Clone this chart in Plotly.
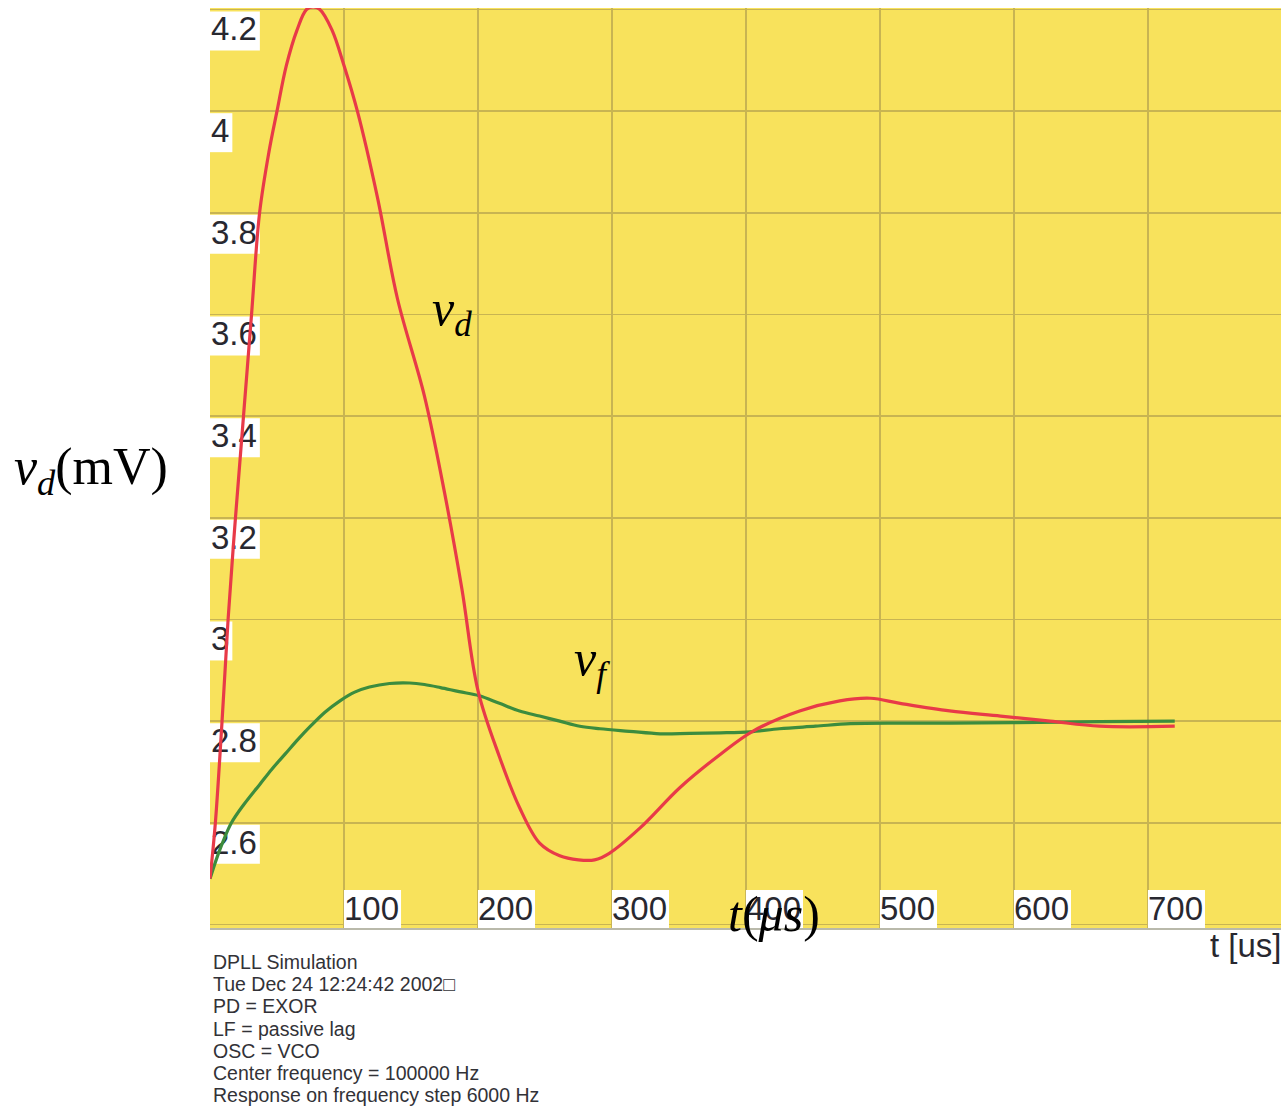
import plotly.graph_objects as go

# ---------------- data ----------------
red_t = [0, 4, 9, 13.5, 19, 25, 31, 37, 44, 50, 57, 65, 72, 77, 82, 91, 100, 110, 125,
         140, 160, 175, 188, 200, 216, 231, 246, 261, 275, 287, 298, 321, 351, 381, 405,
         440, 470, 493, 515, 552, 590, 627, 664, 720]
red_v = [2.49, 2.6, 2.8, 3.0, 3.2, 3.4, 3.6, 3.8, 3.92, 4.0, 4.09, 4.16, 4.2, 4.205, 4.2,
         4.16, 4.09, 4.0, 3.83, 3.63, 3.44, 3.25, 3.06, 2.86, 2.73, 2.63, 2.56, 2.535, 2.527,
         2.527, 2.54, 2.59, 2.67, 2.735, 2.78, 2.82, 2.84, 2.845, 2.835, 2.82, 2.81, 2.80,
         2.79, 2.79]

green_t = [0, 5, 10, 16, 25, 37, 46, 56, 66, 75, 86, 97, 108, 119, 134, 149, 160, 172, 186,
           201, 216, 231, 246, 261, 276, 291, 313, 336, 358, 381, 403, 425, 452, 478, 515,
           552, 600, 664, 720]
green_v = [2.49, 2.53, 2.565, 2.6, 2.635, 2.675, 2.705, 2.735, 2.765, 2.79, 2.818, 2.84,
           2.857, 2.867, 2.874, 2.875, 2.872, 2.866, 2.858, 2.85, 2.835, 2.82, 2.81, 2.80,
           2.79, 2.785, 2.78, 2.775, 2.776, 2.777, 2.779, 2.785, 2.79, 2.795, 2.796, 2.796,
           2.797, 2.799, 2.80]

y_ticks = [2.6, 2.8, 3.0, 3.2, 3.4, 3.6, 3.8, 4.0, 4.2]
y_tick_labels = ["2.6", "2.8", "3", "3.2", "3.4", "3.6", "3.8", "4", "4.2"]
x_ticks = [100, 200, 300, 400, 500, 600, 700]
x_tick_labels = ["100", "200", "300", "400", "500", "600", "700"]

info_lines = [
    "DPLL Simulation",
    "Tue Dec 24 12:24:42 2002\u25a1",
    "PD = EXOR",
    "LF = passive lag",
    "OSC = VCO",
    "Center frequency = 100000 Hz",
    "Response on frequency step 6000 Hz",
]

# ---------------- layout geometry ----------------
W, H = 1287, 1108
ML, MR, MT = 210, 6, 8
MB = H - 928
X_RANGE = [0, 799.3]
Y_RANGE = [2.393, 4.203]
plot_w = W - ML - MR
plot_h = H - MT - MB
px_x = (X_RANGE[1] - X_RANGE[0]) / plot_w   # data units per pixel
px_y = (Y_RANGE[1] - Y_RANGE[0]) / plot_h

YELLOW = "rgb(248,226,92)"
GRID = "rgb(200,180,82)"
TICK_FONT = dict(family="Liberation Sans, Arial, sans-serif", size=33, color="rgb(40,40,48)")
SERIF = "Liberation Serif, Times New Roman, serif"

fig = go.Figure()

shapes = []
def text_w(s, size):
    return sum(0.278 if c == "." else 0.556 for c in s) * size

for v, lab in zip(y_ticks, y_tick_labels):
    w = text_w(lab, TICK_FONT["size"]) + 4
    shapes.append(dict(type="rect", layer="between", xref="x", yref="y",
                       x0=X_RANGE[0], x1=X_RANGE[0] + w * px_x,
                       y0=v - 2 * px_y, y1=v - 41 * px_y,
                       fillcolor="white", line_width=0))
for v, lab in zip(x_ticks, x_tick_labels):
    w = text_w(lab, TICK_FONT["size"]) + 2
    shapes.append(dict(type="rect", layer="between", xref="x", yref="y",
                       x0=v, x1=v + w * px_x,
                       y0=Y_RANGE[0], y1=Y_RANGE[0] + 38 * px_y,
                       fillcolor="white", line_width=0))

# tick label texts (drawn below the curves)
fig.add_trace(go.Scatter(
    x=[X_RANGE[0] + 1 * px_x] * len(y_ticks), y=[v - 6 * px_y for v in y_ticks],
    text=y_tick_labels, mode="text", textposition="bottom right",
    textfont=TICK_FONT, hoverinfo="skip", showlegend=False, cliponaxis=False))
fig.add_trace(go.Scatter(
    x=x_ticks, y=[Y_RANGE[0] + 0 * px_y] * len(x_ticks),
    text=x_tick_labels, mode="text", textposition="top right",
    textfont=TICK_FONT, hoverinfo="skip", showlegend=False, cliponaxis=False))

# curves
fig.add_trace(go.Scatter(x=green_t, y=green_v, mode="lines", line_shape="spline",
                         line=dict(color="rgb(60,140,62)", width=3.2),
                         hoverinfo="skip", showlegend=False))
fig.add_trace(go.Scatter(x=red_t, y=red_v, mode="lines", line_shape="spline",
                         line=dict(color="rgb(232,58,72)", width=3.2),
                         hoverinfo="skip", showlegend=False))

annotations = []
def paper_y(py):          # py: pixel in the page
    return (H - MB - py) / plot_h
def paper_x(px):
    return (px - ML) / plot_w

annotations.append(dict(xref="paper", yref="paper", x=paper_x(12), y=paper_y(470),
                        xanchor="left", yanchor="middle", showarrow=False,
                        text="<i>v</i><sub><i>d</i></sub>(mV)",
                        font=dict(family=SERIF, size=52, color="black")))
annotations.append(dict(xref="paper", yref="paper", x=paper_x(430), y=paper_y(312),
                        xanchor="left", yanchor="middle", showarrow=False,
                        text="<i>v</i><sub><i>d</i></sub>",
                        font=dict(family=SERIF, size=50, color="black")))
annotations.append(dict(xref="paper", yref="paper", x=paper_x(572), y=paper_y(662),
                        xanchor="left", yanchor="middle", showarrow=False,
                        text="<i>v</i><sub><i>f</i></sub>",
                        font=dict(family=SERIF, size=50, color="black")))
annotations.append(dict(xref="paper", yref="paper", x=paper_x(726), y=paper_y(914),
                        xanchor="left", yanchor="middle", showarrow=False,
                        text="<i>t</i>(<i>\u03bcs</i>)",
                        font=dict(family=SERIF, size=50, color="black")))
annotations.append(dict(xref="paper", yref="paper", x=paper_x(1284), y=paper_y(945),
                        xanchor="right", yanchor="middle", showarrow=False,
                        text="t [us]",
                        font=dict(family="Liberation Sans, Arial, sans-serif", size=33,
                                  color="rgb(40,40,48)")))
for i, line in enumerate(info_lines):
    annotations.append(dict(xref="paper", yref="paper", x=paper_x(211),
                            y=paper_y(962 + 22.2 * i),
                            xanchor="left", yanchor="middle", showarrow=False,
                            text=line,
                            font=dict(family="Liberation Sans, Arial, sans-serif", size=19.5,
                                      color="rgb(50,50,55)")))

fig.update_layout(
    width=W, height=H,
    margin=dict(l=ML, r=MR, t=MT, b=MB, pad=0),
    paper_bgcolor="white", plot_bgcolor=YELLOW,
    shapes=shapes, annotations=annotations,
    hovermode=False,
    xaxis=dict(range=X_RANGE, dtick=100, tick0=0, showticklabels=False, ticks="",
               showgrid=True, gridcolor=GRID, gridwidth=1.5, zeroline=False,
               showline=True, linecolor="rgb(185,185,170)", linewidth=2),
    yaxis=dict(range=Y_RANGE, dtick=0.2, tick0=2.6, showticklabels=False, ticks="",
               showgrid=True, gridcolor=GRID, gridwidth=1.5, zeroline=False,
               showline=False),
)

fig.write_html("out.html",
               config={"displayModeBar": False, "staticPlot": True},
               post_script="document.body.style.margin='0';document.body.style.overflow='hidden';")
